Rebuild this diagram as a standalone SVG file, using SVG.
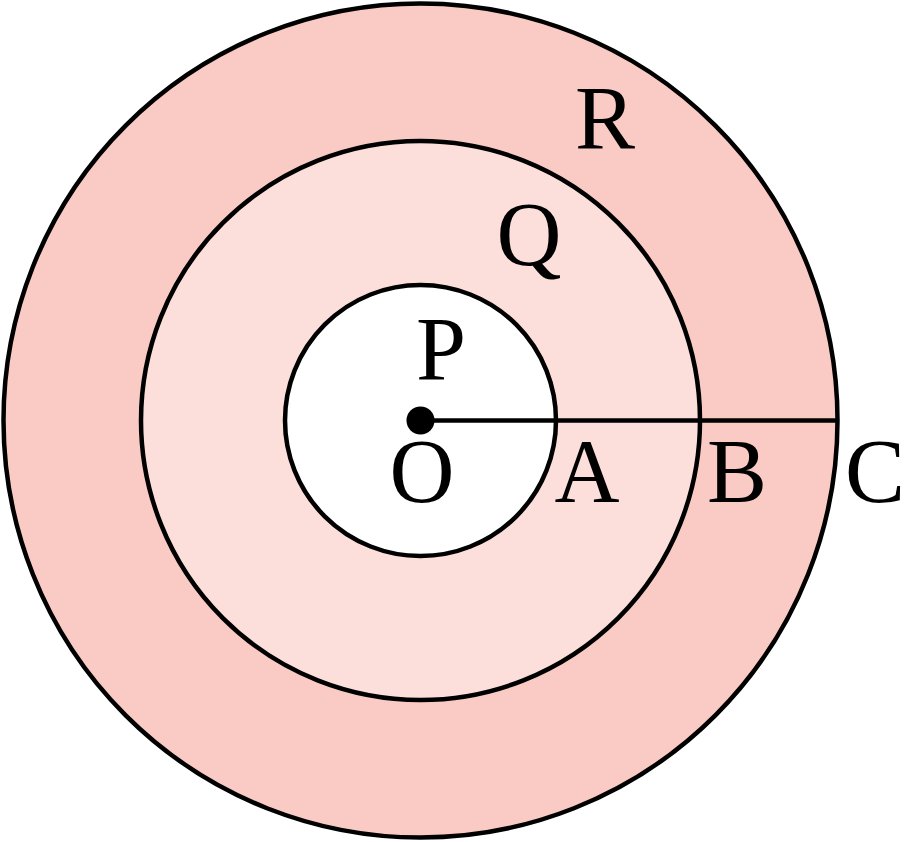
<svg xmlns="http://www.w3.org/2000/svg" width="914" height="842" viewBox="0 0 914 842">
<style>
.ring{stroke:#000;stroke-width:4.5}
.lbl{font-family:"Liberation Serif","DejaVu Serif",serif;font-size:90px;fill:#000;text-anchor:middle}
</style>
<rect width="914" height="842" fill="#fff"/>
<g id="ring-R"><circle class="ring" cx="420.5" cy="420.5" r="417" fill="#f9cbc4"/></g>
<g id="ring-Q"><circle class="ring" cx="420.5" cy="420.5" r="279.5" fill="#fcdfda"/></g>
<g id="ring-P"><circle class="ring" cx="420.5" cy="420.5" r="135.5" fill="#fff"/></g>
<g id="connectors"><line x1="420.5" y1="420.5" x2="837.5" y2="420.5" stroke="#000" stroke-width="4.5"/></g>
<g id="point-O"><circle cx="420.5" cy="420.5" r="14" fill="#000"/></g>
<g id="labels">
<text class="lbl" x="605" y="149">R</text>
<text class="lbl" x="529" y="265">Q</text>
<text class="lbl" x="441" y="380">P</text>
<text class="lbl" x="422" y="502">O</text>
<text class="lbl" x="587" y="502">A</text>
<text class="lbl" x="737" y="502">B</text>
<text class="lbl" x="875" y="502">C</text>
</g>
</svg>
